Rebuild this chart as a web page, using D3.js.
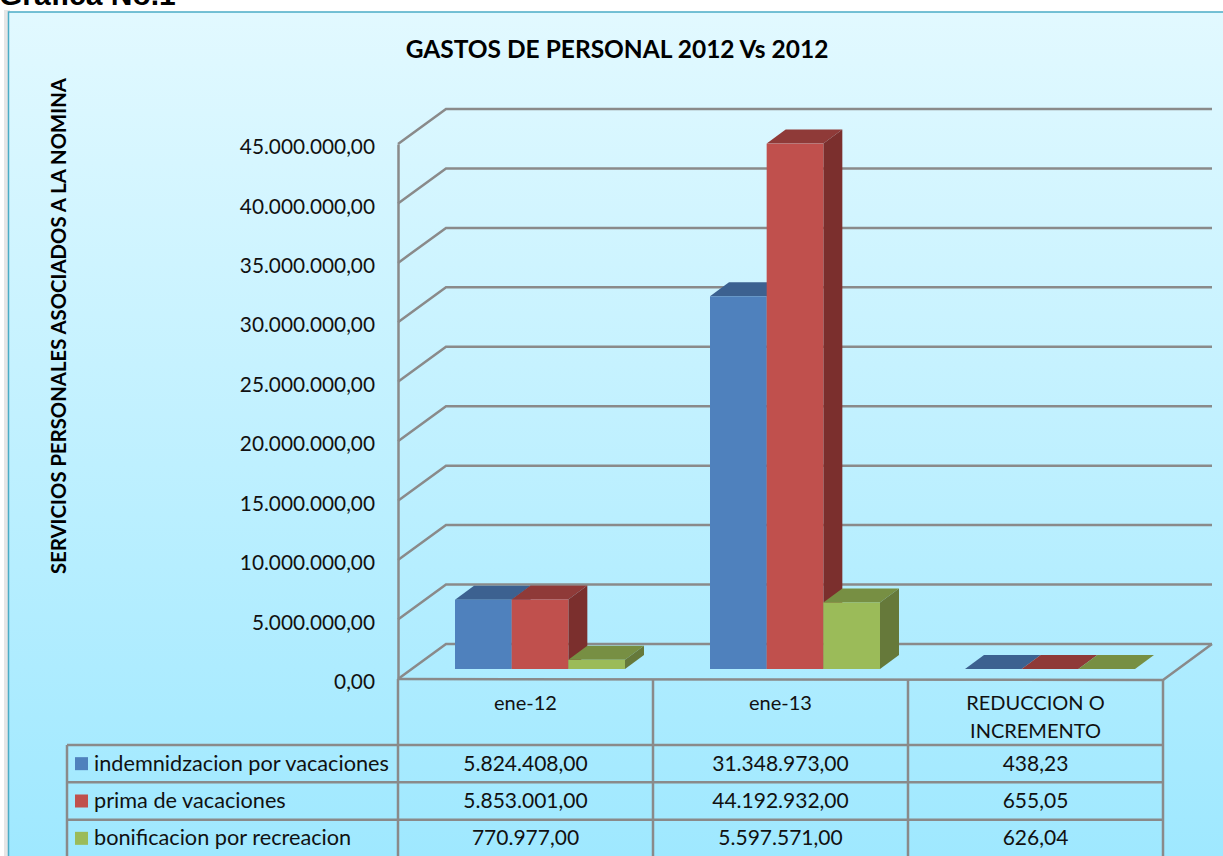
<!DOCTYPE html>
<html>
<head>
<meta charset="utf-8">
<script src="https://d3js.org/d3.v7.min.js"></script>
<style>
html, body { margin: 0; padding: 0; background: #fff; overflow: hidden; }
text { font-family: Lato, sans-serif; fill: #111; }
</style>
</head>
<body>
<div class="grafica"></div>
<script>
var categorias = ["ene-12", "ene-13", ["REDUCCION O", "INCREMENTO"]];
var series = ["indemnidzacion por vacaciones", "prima de vacaciones", "bonificacion por recreacion"];
var indemnizacion = [5824408, 31348973, 438.23];
var prima = [5853001, 44192932, 655.05];
var bonificacion = [770977, 5597571, 626.04];
var valores = [indemnizacion, prima, bonificacion];
var ticks = [0, 5000000, 10000000, 15000000, 20000000, 25000000, 30000000, 35000000, 40000000, 45000000];

var colores = [
	{ frente: "#4f81bd", arriba: "#3c6190", lado: "#35577f" },
	{ frente: "#c0504d", arriba: "#8f3a38", lado: "#7b2f2d" },
	{ frente: "#9bbb59", arriba: "#778f43", lado: "#66793a" }
];

var w = 1223, h = 856;
var numero = d3.formatLocale({ decimal: ",", thousands: ".", grouping: [3], currency: ["", ""] }).format(",.2f");

var svg = d3.select(".grafica").append("svg")
	.attr("width", w)
	.attr("height", h)
	.style("display", "block");

// Fondo degradado y sombra del panel
var defs = svg.append("defs");
var grad = defs.append("linearGradient").attr("id", "fondo").attr("x1", 0).attr("y1", 0).attr("x2", 0).attr("y2", 1);
grad.append("stop").attr("offset", "0%").attr("stop-color", "#e2f9ff");
grad.append("stop").attr("offset", "100%").attr("stop-color", "#9ee8ff");

svg.append("rect").attr("x", 4).attr("y", 10).attr("width", 6).attr("height", h).attr("fill", "#e6e6e6");
svg.append("rect")
	.attr("x", 8.5).attr("y", 12)
	.attr("width", w).attr("height", h)
	.attr("fill", "url(#fondo)")
	.attr("stroke", "#4bacc6")
	.attr("stroke-width", 1.5);

svg.append("text")
	.attr("x", -1).attr("y", 5)
	.style("font-family", "'Liberation Sans', Arial, sans-serif")
	.style("font-weight", "bold")
	.style("font-size", "30px")
	.style("fill", "#000")
	.text("Grafica No.1");

svg.append("text")
	.attr("x", 617).attr("y", 58)
	.attr("text-anchor", "middle")
	.style("font-weight", "bold")
	.style("font-size", "24.5px")
	.style("fill", "#000")
	.text("GASTOS DE PERSONAL 2012 Vs 2012");

svg.append("text")
	.attr("transform", "translate(66,326) rotate(-90)")
	.attr("text-anchor", "middle")
	.style("font-weight", "bold")
	.style("font-size", "20.3px")
	.style("fill", "#000")
	.text("SERVICIOS PERSONALES ASOCIADOS A LA NOMINA");

// Escalas
var y = d3.scaleLinear().domain([0, 45000000]).range([679, 144]);
var x = d3.scaleBand().domain(d3.range(categorias.length)).range([398, 1163]);
var xSerie = d3.scaleBand().domain(d3.range(series.length)).range([57, 227]);

var fondoX = 48, fondoY = -35;   // profundidad de las paredes
var barraX = 19, barraY = -14;   // profundidad de las barras
var elevar = 10;                 // las barras arrancan dentro del piso

var gris = "#8a8a8a";

// Paredes y lineas de division
var paredes = svg.append("g").attr("fill", "none").attr("stroke", gris).attr("stroke-width", 2.5);
paredes.selectAll("path.div")
	.data(ticks)
	.join("path")
	.attr("class", "div")
	.attr("d", function (d) {
		return "M" + x.range()[0] + "," + y(d) +
			"L" + (x.range()[0] + fondoX) + "," + (y(d) + fondoY) +
			"H" + (x.range()[1] + fondoX + 1);
	});
paredes.append("path")
	.attr("d", "M" + x.range()[0] + "," + y(0) + "L" + x.range()[1] + "," + (y(0) + 1) +
		"L" + (x.range()[1] + fondoX + 1) + "," + (y(0) + fondoY));

// Eje vertical con las etiquetas
var eje = svg.append("g")
	.attr("transform", "translate(398,0)")
	.call(d3.axisLeft(y).tickValues(ticks).tickSize(0).tickPadding(23).tickFormat(numero));
eje.select(".domain").attr("stroke", gris).attr("stroke-width", 2.5);
eje.selectAll("text")
	.attr("dy", "0.46em")
	.style("font-size", "20.8px");

// Barras
var capas = svg.append("g");
categorias.forEach(function (c, i) {
	series.forEach(function (s, j) {
		var v = valores[j][i];
		var x0 = x(i) + xSerie(j), x1 = x0 + xSerie.bandwidth();
		var yBase = y(0) - elevar, yTop = y(v) - elevar;
		var g = capas.append("g");
		g.append("path")
			.attr("fill", colores[j].arriba)
			.attr("d", "M" + x0 + "," + yTop + "L" + (x0 + barraX) + "," + (yTop + barraY) +
				"H" + (x1 + barraX) + "L" + x1 + "," + yTop + "Z");
		g.append("path")
			.attr("fill", colores[j].lado)
			.attr("d", "M" + x1 + "," + yTop + "L" + (x1 + barraX) + "," + (yTop + barraY) +
				"V" + (yBase + barraY) + "L" + x1 + "," + yBase + "Z");
		g.append("rect")
			.attr("x", x0).attr("y", yTop)
			.attr("width", xSerie.bandwidth()).attr("height", yBase - yTop)
			.attr("fill", colores[j].frente);
	});
});

// Tabla de datos
var filaY = d3.scaleBand().domain(d3.range(series.length)).range([745, 857]);
var tablaIzq = 67;
var tabla = svg.append("g").attr("stroke", gris).attr("stroke-width", 2.5).attr("fill", "none");
x.domain().concat(categorias.length).forEach(function (i) {
	var xl = i < categorias.length ? x(i) : x.range()[1];
	tabla.append("line").attr("x1", xl).attr("x2", xl).attr("y1", y(0)).attr("y2", h);
});
tabla.append("line").attr("x1", tablaIzq).attr("x2", tablaIzq).attr("y1", filaY(0)).attr("y2", h);
series.forEach(function (s, j) {
	tabla.append("line")
		.attr("x1", tablaIzq).attr("x2", x.range()[1])
		.attr("y1", filaY(j)).attr("y2", filaY(j));
});

categorias.forEach(function (c, i) {
	var lineas = Array.isArray(c) ? c : [c];
	lineas.forEach(function (l, k) {
		svg.append("text")
			.attr("x", x(i) + x.bandwidth() / 2)
			.attr("y", 710 + k * 28)
			.attr("text-anchor", "middle")
			.style("font-size", "20px")
			.text(l);
	});
});

series.forEach(function (s, j) {
	var ym = filaY(j) + filaY.bandwidth() / 2;
	svg.append("rect")
		.attr("x", 75).attr("y", ym - 6.5)
		.attr("width", 13).attr("height", 13)
		.attr("fill", colores[j].frente);
	svg.append("text")
		.attr("x", 94).attr("y", ym + 7)
		.style("font-size", "21.7px")
		.text(s);
	categorias.forEach(function (c, i) {
		svg.append("text")
			.attr("x", x(i) + x.bandwidth() / 2)
			.attr("y", ym + 7)
			.attr("text-anchor", "middle")
			.style("font-size", "21px")
			.text(numero(valores[j][i]));
	});
});
</script>
</body>
</html>
